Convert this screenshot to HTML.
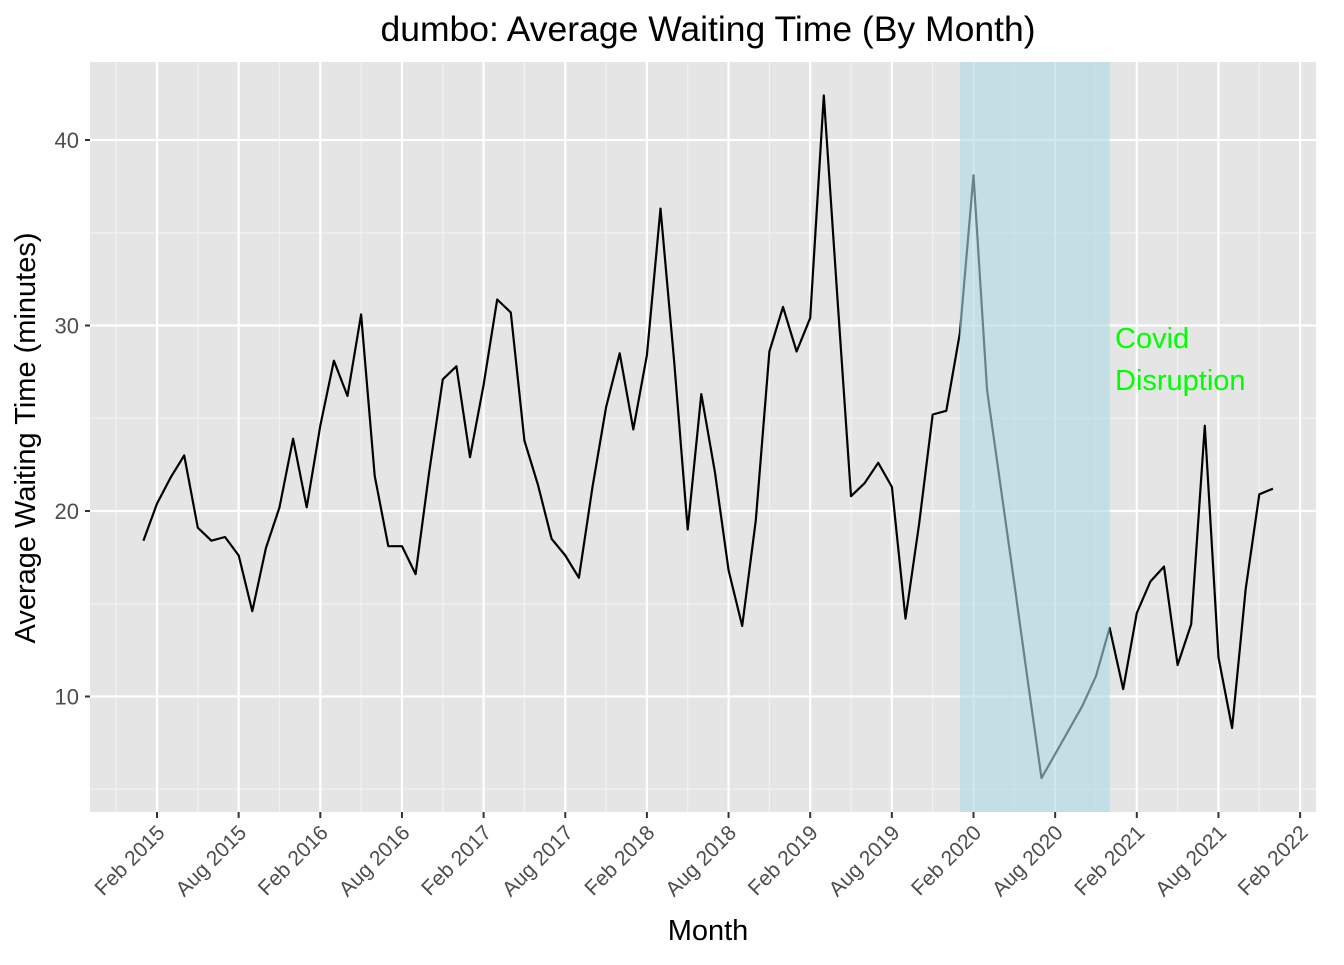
<!DOCTYPE html>
<html><head><meta charset="utf-8"><style>
body{margin:0;background:#fff;}
svg text{font-family:"Liberation Sans",Arial,sans-serif;}
</style></head><body>
<svg width="1344" height="960" xmlns="http://www.w3.org/2000/svg">
<rect x="0" y="0" width="1344" height="960" fill="#fff"/>
<text x="708" y="41" text-anchor="middle" font-size="35.5" fill="#000">dumbo: Average Waiting Time (By Month)</text>
<rect x="90" y="62" width="1226" height="750" fill="#e5e5e5"/>
<g id="grid"></g>
<g id="series"></g>
<g id="band"></g>
<g id="axes"></g>
<text x="1115" y="348" font-size="29" fill="#00ff00">Covid</text>
<text x="1115" y="390" font-size="29" fill="#00ff00">Disruption</text>
<text x="708" y="940" text-anchor="middle" font-size="29" fill="#000">Month</text>
<text transform="translate(35,438) rotate(-90)" text-anchor="middle" font-size="29" fill="#000">Average Waiting Time (minutes)</text>
</svg>
<script>
// month index: 0 = Feb 2015
const startMonth = -1;
const waitValues = [18.4,20.4,21.8,23,19.1,18.4,18.6,17.6,14.6,18,20.2,23.9,20.2,24.6,28.1,26.2,30.6,21.9,18.1,18.1,16.6,22.1,27.1,27.8,22.9,26.8,31.4,30.7,23.8,21.4,18.5,17.6,16.4,21.3,25.6,28.5,24.4,28.4,36.3,28.1,19,26.3,22.1,16.8,13.8,19.5,28.6,31,28.6,30.4,42.4,31.5,20.8,21.5,22.6,21.3,14.2,19.3,25.2,25.4,29.6,38.1,26.5,21.3,16.1,10.8,5.6,6.9,8.2,9.5,11.1,13.7,10.4,14.5,16.2,17,11.7,13.9,24.6,12.1,8.3,15.8,20.9,21.2];
const xTickLabels = ["Feb 2015","Aug 2015","Feb 2016","Aug 2016","Feb 2017","Aug 2017","Feb 2018","Aug 2018","Feb 2019","Aug 2019","Feb 2020","Aug 2020","Feb 2021","Aug 2021","Feb 2022"];
const yTicks = [10,20,30,40];
const covidBand = [59, 70];

const NS="http://www.w3.org/2000/svg";
const x = m => 157 + m*163.3/12;
const y = v => 696.5 - (v-10)*18.55;
const L=90,R=1316,T=62,B=812;
function mk(tag,attrs,parent){const e=document.createElementNS(NS,tag);for(const k in attrs)e.setAttribute(k,attrs[k]);parent.appendChild(e);return e;}
const grid=document.getElementById('grid');
for(let v=5;v<=45;v+=10){const yy=y(v);if(yy>T&&yy<B){const l=mk('line',{x1:L,x2:R,y1:yy,y2:yy,stroke:'#f2f2f2','stroke-width':1.2},grid);

}}
for(let i=-1;i<xTickLabels.length;i++){const xx=x(i*6+3);if(xx>L&&xx<R){const l=mk('line',{x1:xx,x2:xx,y1:T,y2:B,stroke:'#f2f2f2','stroke-width':1.2},grid);

}}
const axes=document.getElementById('axes');
yTicks.forEach(v=>{const yy=y(v);
const l=mk('line',{x1:L,x2:R,y1:yy,y2:yy,stroke:'#fff','stroke-width':2.2},grid);


const t=mk('line',{x1:L-5,x2:L,y1:yy,y2:yy,stroke:'#333','stroke-width':2},axes);


const tx=mk('text',{x:L-11,y:yy+8,'text-anchor':'end','font-size':22,fill:'#4d4d4d'},axes);
tx.textContent=v;

});
xTickLabels.forEach((lab,i)=>{const xx=x(i*6);
const l=mk('line',{x1:xx,x2:xx,y1:T,y2:B,stroke:'#fff','stroke-width':2.2},grid);


const t=mk('line',{x1:xx,x2:xx,y1:B,y2:B+6,stroke:'#333','stroke-width':2},axes);


const tx=mk('text',{transform:`translate(${xx+9},${B+22}) rotate(-45)`,'text-anchor':'end','font-size':21,fill:'#4d4d4d'},axes);
tx.textContent=lab;

});
const pts=waitValues.map((v,i)=>x(startMonth+i).toFixed(1)+','+y(v).toFixed(1)).join(' ');
const pl=mk('polyline',{points:pts,fill:'none',stroke:'#000','stroke-width':2.2,'stroke-linejoin':'round'},document.getElementById('series'));


const band=mk('rect',{x:x(covidBand[0]),y:T,width:x(covidBand[1])-x(covidBand[0]),height:B-T,fill:'#add8e6','fill-opacity':0.6},document.getElementById('band'));


</script>
</body></html>
